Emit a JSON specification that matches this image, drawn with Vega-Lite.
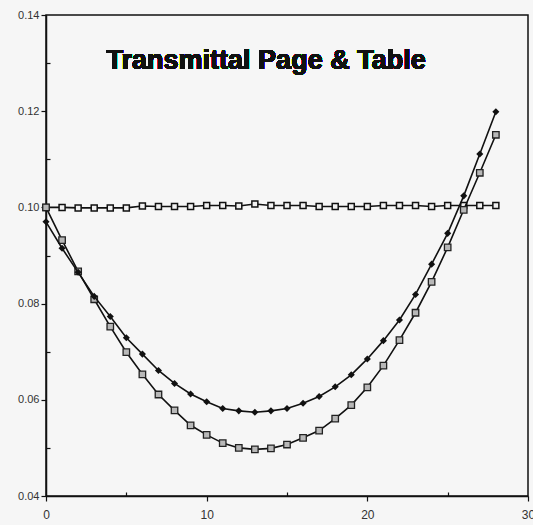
{
  "$schema": "https://vega.github.io/schema/vega-lite/v6.json",
  "autosize": "none",
  "padding": {"left": 46, "top": 15, "right": 5, "bottom": 29},
  "width": 482,
  "height": 481,
  "background": "#f6f6f6",
  "config": {
    "view": {"stroke": "#111", "strokeWidth": 1.5},
    "axis": {
      "grid": false,
      "domainColor": "#111",
      "domainWidth": 1.5,
      "tickColor": "#111",
      "tickWidth": 1.2,
      "labelColor": "#333",
      "labelFont": "Liberation Sans",
      "labelFontSize": 11,
      "title": null
    }
  },
  "data": {
    "values": [
      {"s": "A", "x": 0, "y": 0.0970}, {"s": "A", "x": 1, "y": 0.0915}, {"s": "A", "x": 2, "y": 0.0865},
      {"s": "A", "x": 3, "y": 0.0815}, {"s": "A", "x": 4, "y": 0.0773}, {"s": "A", "x": 5, "y": 0.0729},
      {"s": "A", "x": 6, "y": 0.0695}, {"s": "A", "x": 7, "y": 0.0661}, {"s": "A", "x": 8, "y": 0.0634},
      {"s": "A", "x": 9, "y": 0.0612}, {"s": "A", "x": 10, "y": 0.0596}, {"s": "A", "x": 11, "y": 0.0582},
      {"s": "A", "x": 12, "y": 0.0577}, {"s": "A", "x": 13, "y": 0.0574}, {"s": "A", "x": 14, "y": 0.0577},
      {"s": "A", "x": 15, "y": 0.0582}, {"s": "A", "x": 16, "y": 0.0593}, {"s": "A", "x": 17, "y": 0.0607},
      {"s": "A", "x": 18, "y": 0.0627}, {"s": "A", "x": 19, "y": 0.0652}, {"s": "A", "x": 20, "y": 0.0685},
      {"s": "A", "x": 21, "y": 0.0723}, {"s": "A", "x": 22, "y": 0.0766}, {"s": "A", "x": 23, "y": 0.0819},
      {"s": "A", "x": 24, "y": 0.0882}, {"s": "A", "x": 25, "y": 0.0946}, {"s": "A", "x": 26, "y": 0.1024},
      {"s": "A", "x": 27, "y": 0.1111}, {"s": "A", "x": 28, "y": 0.1199},
      {"s": "B", "x": 0, "y": 0.1000}, {"s": "B", "x": 1, "y": 0.0932}, {"s": "B", "x": 2, "y": 0.0867},
      {"s": "B", "x": 3, "y": 0.0809}, {"s": "B", "x": 4, "y": 0.0752}, {"s": "B", "x": 5, "y": 0.0699},
      {"s": "B", "x": 6, "y": 0.0653}, {"s": "B", "x": 7, "y": 0.0611}, {"s": "B", "x": 8, "y": 0.0578},
      {"s": "B", "x": 9, "y": 0.0547}, {"s": "B", "x": 10, "y": 0.0527}, {"s": "B", "x": 11, "y": 0.0510},
      {"s": "B", "x": 12, "y": 0.0500}, {"s": "B", "x": 13, "y": 0.0497}, {"s": "B", "x": 14, "y": 0.0499},
      {"s": "B", "x": 15, "y": 0.0507}, {"s": "B", "x": 16, "y": 0.0521}, {"s": "B", "x": 17, "y": 0.0536},
      {"s": "B", "x": 18, "y": 0.0561}, {"s": "B", "x": 19, "y": 0.0589}, {"s": "B", "x": 20, "y": 0.0626},
      {"s": "B", "x": 21, "y": 0.0671}, {"s": "B", "x": 22, "y": 0.0724}, {"s": "B", "x": 23, "y": 0.0781},
      {"s": "B", "x": 24, "y": 0.0845}, {"s": "B", "x": 25, "y": 0.0917}, {"s": "B", "x": 26, "y": 0.0995},
      {"s": "B", "x": 27, "y": 0.1072}, {"s": "B", "x": 28, "y": 0.1151},
      {"s": "C", "x": 0, "y": 0.1000}, {"s": "C", "x": 1, "y": 0.1000}, {"s": "C", "x": 2, "y": 0.0999},
      {"s": "C", "x": 3, "y": 0.0999}, {"s": "C", "x": 4, "y": 0.0999}, {"s": "C", "x": 5, "y": 0.0999},
      {"s": "C", "x": 6, "y": 0.1003}, {"s": "C", "x": 7, "y": 0.1002}, {"s": "C", "x": 8, "y": 0.1002},
      {"s": "C", "x": 9, "y": 0.1002}, {"s": "C", "x": 10, "y": 0.1004}, {"s": "C", "x": 11, "y": 0.1004},
      {"s": "C", "x": 12, "y": 0.1003}, {"s": "C", "x": 13, "y": 0.1007}, {"s": "C", "x": 14, "y": 0.1004},
      {"s": "C", "x": 15, "y": 0.1004}, {"s": "C", "x": 16, "y": 0.1004}, {"s": "C", "x": 17, "y": 0.1002},
      {"s": "C", "x": 18, "y": 0.1002}, {"s": "C", "x": 19, "y": 0.1002}, {"s": "C", "x": 20, "y": 0.1002},
      {"s": "C", "x": 21, "y": 0.1004}, {"s": "C", "x": 22, "y": 0.1004}, {"s": "C", "x": 23, "y": 0.1004},
      {"s": "C", "x": 24, "y": 0.1002}, {"s": "C", "x": 25, "y": 0.1004}, {"s": "C", "x": 26, "y": 0.1004},
      {"s": "C", "x": 27, "y": 0.1004}, {"s": "C", "x": 28, "y": 0.1004}
    ]
  },
  "encoding": {
    "x": {
      "field": "x", "type": "quantitative",
      "scale": {"domain": [0, 30], "nice": false, "zero": false},
      "axis": {
        "values": [0, 5, 10, 15, 20, 25, 30],
        "labelExpr": "datum.value % 10 === 0 ? datum.label : ''",
        "tickSize": {"condition": {"test": "datum.value % 10 === 0", "value": 5}, "value": -4},
        "labelPadding": 8,
        "labelFontSize": 12,
        "labelFlush": false
      }
    },
    "y": {
      "field": "y", "type": "quantitative",
      "scale": {"domain": [0.04, 0.14], "nice": false, "zero": false},
      "axis": {
        "values": [0.04, 0.05, 0.06, 0.07, 0.08, 0.09, 0.10, 0.11, 0.12, 0.13, 0.14],
        "format": ".2f",
        "labelExpr": "round(datum.value * 100) % 2 === 0 ? datum.label : ''",
        "tickSize": {"condition": {"test": "round(datum.value * 100) % 2 === 0", "value": 5}, "value": -4},
        "labelPadding": 2,
        "labelFlush": false
      }
    }
  },
  "layer": [
    {
      "transform": [{"filter": "datum.s === 'C'"}],
      "mark": {"type": "line", "color": "#111", "strokeWidth": 1.6},
      "encoding": {}
    },
    {
      "transform": [{"filter": "datum.s === 'C'"}],
      "mark": {"type": "point", "shape": "square", "size": 36, "filled": true, "fill": "#f2f2f2", "stroke": "#111", "strokeWidth": 1.5, "opacity": 1},
      "encoding": {}
    },
    {
      "transform": [{"filter": "datum.s === 'B'"}],
      "mark": {"type": "line", "color": "#111", "strokeWidth": 1.6},
      "encoding": {}
    },
    {
      "transform": [{"filter": "datum.s === 'B'"}],
      "mark": {"type": "point", "shape": "square", "size": 42, "filled": true, "fill": "#b8b8b8", "stroke": "#222", "strokeWidth": 1.3, "opacity": 1},
      "encoding": {}
    },
    {
      "transform": [{"filter": "datum.s === 'A'"}],
      "mark": {"type": "line", "color": "#111", "strokeWidth": 1.6},
      "encoding": {}
    },
    {
      "transform": [{"filter": "datum.s === 'A'"}],
      "mark": {"type": "point", "shape": "diamond", "size": 50, "filled": true, "color": "#111", "opacity": 1},
      "encoding": {}
    },
    {
      "mark": {"type": "text", "text": "Transmittal Page & Table", "font": "Liberation Sans", "fontWeight": "bold", "fontSize": 27, "align": "center", "baseline": "alphabetic", "color": "#111"},
      "encoding": {
        "x": {"datum": 13.7, "type": "quantitative"},
        "y": {"datum": 0.1288, "type": "quantitative"}
      }
    }
  ]
}
